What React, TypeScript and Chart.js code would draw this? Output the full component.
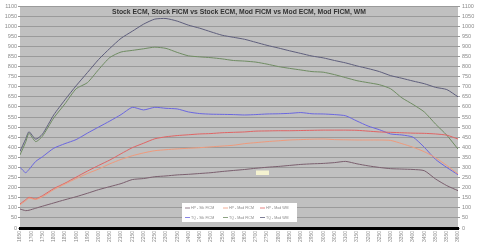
import React, { useEffect, useRef } from "react";
import { Chart, registerables } from "chart.js";

Chart.register(...registerables);

const TITLE = "Stock ECM, Stock FICM vs Stock ECM, Mod FICM vs Mod ECM, Mod FICM, WM";

const rpm = [1650, 1675, 1690, 1720, 1750, 1800, 1850, 1900, 1950, 2000, 2050, 2100, 2150, 2200, 2250, 2300, 2350, 2400, 2450, 2500, 2550, 2600, 2650, 2700, 2750, 2800, 2850, 2900, 2950, 3000, 3050, 3100, 3150, 3200, 3250, 3300, 3350, 3400, 3450, 3500, 3550, 3600];

const hpStkFicm = [94, 86, 88, 98, 108, 124, 140, 155, 172, 190, 205, 220, 240, 245, 254, 258, 263, 266, 270, 274, 280, 285, 290, 296, 301, 305, 310, 315, 318, 320, 324, 330, 318, 308, 300, 294, 292, 290, 284, 243, 210, 185];
const hpModFicm = [115, 135, 148, 142, 155, 190, 218, 245, 270, 292, 318, 340, 358, 372, 383, 388, 392, 395, 398, 402, 406, 410, 418, 423, 428, 432, 436, 438, 440, 441, 438, 437, 436, 436, 436, 434, 418, 400, 378, 348, 310, 268];
const hpModWm = [119, 140, 152, 144, 160, 195, 222, 252, 282, 310, 337, 368, 398, 420, 442, 452, 458, 462, 466, 468, 472, 474, 476, 480, 481, 482, 482, 483, 484, 485, 485, 485, 484, 480, 476, 474, 472, 470, 469, 466, 460, 441];
const tqStkFicm = [301, 274, 290, 330, 353, 395, 418, 438, 470, 500, 530, 562, 598, 585, 598, 593, 590, 575, 567, 564, 563, 562, 560, 562, 565, 566, 568, 572, 566, 565, 562, 556, 530, 505, 487, 466, 461, 450, 400, 340, 300, 264];
const tqModFicm = [362, 425, 469, 428, 455, 545, 615, 690, 720, 785, 845, 872, 880, 888, 896, 890, 870, 853, 848, 844, 838, 830, 827, 822, 812, 800, 791, 783, 775, 772, 760, 745, 730, 720, 710, 690, 645, 612, 575, 515, 460, 391];
const tqModWm = [380, 440, 477, 440, 465, 560, 635, 705, 770, 835, 890, 940, 975, 1010, 1035, 1038, 1025, 1005, 990, 972, 955, 945, 935, 920, 905, 892, 878, 865, 852, 843, 830, 818, 803, 790, 775, 755, 742, 728, 715, 697, 686, 650];

const seriesNames = ["HP - Stk FICM", "HP - Mod FICM", "HP - Mod WM", "TQ - Stk FICM", "TQ - Mod FICM", "TQ - Mod WM"];
const seriesValues = [hpStkFicm, hpModFicm, hpModWm, tqStkFicm, tqModFicm, tqModWm];
const seriesColors = ["#7a5f6e", "#ef9a7c", "#e06464", "#6a66e0", "#6f8c62", "#5e5e7c"];

const FONT = "'Liberation Sans', Arial, sans-serif";

const overlayPlugin = {
  id: "overlay",
  beforeDraw(chart: any) {
    const { ctx, chartArea } = chart;
    ctx.save();
    ctx.fillStyle = "#c0c0c0";
    ctx.fillRect(chartArea.left, chartArea.top, chartArea.right - chartArea.left, chartArea.bottom - chartArea.top);
    ctx.restore();
  },
  afterDraw(chart: any) {
    const { ctx, chartArea } = chart;
    ctx.save();
    ctx.font = `bold 6.8px ${FONT}`;
    ctx.fillStyle = "#333333";
    ctx.textAlign = "center";
    ctx.textBaseline = "middle";
    ctx.fillText(TITLE, (chartArea.left + chartArea.right) / 2, 12.5);

    const bx = 182, by = 203, bw = 115, bh = 19;
    ctx.fillStyle = "#ffffff";
    ctx.fillRect(bx, by, bw, bh);
    ctx.font = `3.6px ${FONT}`;
    ctx.textAlign = "left";
    const colX = [185, 223, 260];
    const rowY = [208, 217.5];
    seriesNames.forEach((name, i) => {
      const c = i % 3;
      const r = Math.floor(i / 3);
      const x = colX[c];
      const y = rowY[r];
      ctx.strokeStyle = seriesColors[i];
      ctx.lineWidth = 0.8;
      ctx.beginPath();
      ctx.moveTo(x, y);
      ctx.lineTo(x + 5, y);
      ctx.stroke();
      ctx.fillStyle = "#8a8a8a";
      ctx.fillText(name, x + 6, y);
    });

    ctx.fillStyle = "#f4f2d0";
    ctx.fillRect(256, 170.5, 13, 4.5);
    ctx.restore();
  },
};

export default function App() {
  const ref = useRef<HTMLCanvasElement | null>(null);
  useEffect(() => {
    if (!ref.current) return;
    const datasets = seriesNames.map((name, i) => ({
      label: name,
      data: rpm.map((x, j) => ({ x, y: seriesValues[i][j] })),
      borderColor: seriesColors[i],
      backgroundColor: seriesColors[i],
      borderWidth: 1,
      pointRadius: 0,
      tension: 0.2,
      fill: false,
      yAxisID: "y",
    }));
    const chart = new Chart(ref.current, {
      type: "line",
      data: { datasets },
      plugins: [overlayPlugin],
      options: {
        animation: false,
        responsive: false,
        layout: { padding: { top: 6, left: 0, right: 0, bottom: 0 } },
        plugins: { legend: { display: false }, tooltip: { enabled: false }, title: { display: false } },
        scales: {
          x: {
            type: "linear",
            min: 1650,
            max: 3600,
            afterFit: (s: any) => { s.height = 20; },
            border: { display: true, color: "#000000", width: 3 },
            grid: { display: false, drawTicks: false },
            ticks: {
              stepSize: 50,
              autoSkip: false,
              minRotation: 90,
              maxRotation: 90,
              padding: 3,
              color: "#8a8a8a",
              font: { size: 5, family: FONT },
              callback: (v: any) => String(v),
            },
          },
          y: {
            position: "left",
            min: 0,
            max: 1100,
            afterFit: (s: any) => { s.width = 20; },
            border: { display: false },
            grid: { color: "#9a9a9a", lineWidth: 1, tickLength: 2 },
            ticks: { stepSize: 50, padding: 1, color: "#8a8a8a", font: { size: 5.5, family: FONT }, callback: (v: any) => String(v) },
          },
          y2: {
            position: "right",
            min: 0,
            max: 1100,
            afterFit: (s: any) => { s.width = 22; },
            border: { display: false },
            grid: { display: true, drawOnChartArea: false, color: "#9a9a9a", tickLength: 2 },
            ticks: { stepSize: 50, padding: 2, color: "#8a8a8a", font: { size: 5.5, family: FONT }, callback: (v: any) => String(v) },
          },
        },
      },
    });
    return () => chart.destroy();
  }, []);
  return (
    <div style={{ position: "absolute", left: 0, top: 0, width: 480, height: 248, background: "#fff" }}>
      <canvas ref={ref} width={480} height={248} style={{ display: "block" }} />
    </div>
  );
}
